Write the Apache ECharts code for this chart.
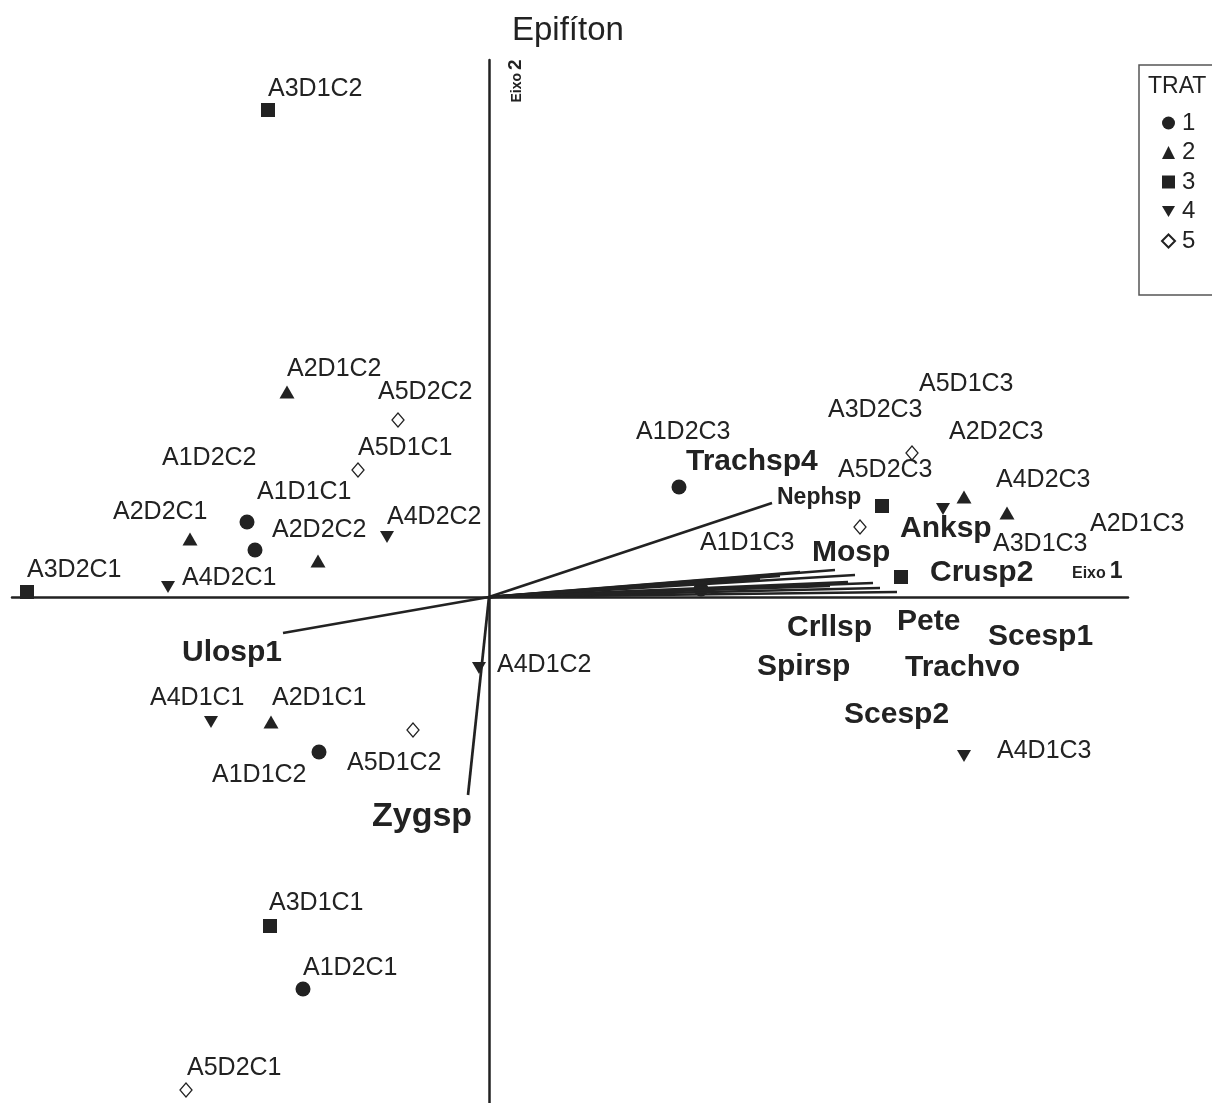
<!DOCTYPE html>
<html>
<head>
<meta charset="utf-8">
<script src="https://cdn.jsdelivr.net/npm/echarts@6/dist/echarts.min.js"></script>
<style>
html, body { margin: 0; padding: 0; background: #fff; }
#chart { width: 1212px; height: 1103px; }
</style>
</head>
<body>
<div id="chart"></div>
<script>
// Sample scores on ordination axes 1 and 2
const sampleNames = ['A1D1C1','A1D1C2','A1D1C3','A1D2C1','A1D2C2','A1D2C3',
  'A2D1C1','A2D1C2','A2D1C3','A2D2C1','A2D2C2','A2D2C3',
  'A3D1C1','A3D1C2','A3D1C3','A3D2C1','A3D2C3',
  'A4D1C1','A4D1C2','A4D1C3','A4D2C1','A4D2C2','A4D2C3',
  'A5D1C1','A5D1C2','A5D1C3','A5D2C1','A5D2C2','A5D2C3'];
const sampleX = [-1.21,-0.85,1.06,-0.93,-1.17,0.95,
  -1.09,-1.01,2.59,-1.495,-0.855,2.375,
  -1.095,-1.105,2.06,-2.31,1.965,
  -1.39,-0.05,2.375,-1.605,-0.51,2.27,
  -0.655,-0.38,2.115,-1.515,-0.455,1.855];
const sampleY = [0.375,-0.775,0.04,-1.96,0.235,0.55,
  -0.625,1.025,0.42,0.29,0.18,0.5,
  -1.645,2.435,0.1,0.025,0.455,
  -0.625,-0.355,-0.795,0.05,0.3,0.44,
  0.635,-0.665,0.72,-2.465,0.885,0.35];
// Anchor (left edge, middle) of each sample name, in axis units
const sampleLabelX = [-1.16,-1.385,1.055,-0.93,-1.635,0.735,
  -1.085,-1.01,3.005,-1.88,-1.085,2.3,
  -1.1,-1.105,2.52,-2.31,1.695,
  -1.695,0.04,2.54,-1.535,-0.51,2.535,
  -0.655,-0.71,2.15,-1.51,-0.555,1.745];
const sampleLabelY = [0.525,-0.89,0.27,-1.855,0.695,0.825,
  -0.505,1.14,0.365,0.425,0.335,0.825,
  -1.53,2.54,0.265,0.135,0.935,
  -0.505,-0.34,-0.77,0.095,0.4,0.585,
  0.745,-0.83,1.065,-2.355,1.025,0.635];

// Species vectors (tips) and their name anchors
const speciesNames = ['Trachsp4','Nephsp','Anksp','Mosp','Crusp2','Crllsp','Pete',
  'Scesp1','Spirsp','Trachvo','Scesp2','Ulosp1','Zygsp'];
const speciesX = [1.73,1.415,1.83,1.92,2.04,1.555,1.795,1.955,1.455,1.705,1.355,-1.03,-0.105];
const speciesY = [0.135,0.47,0.11,0.07,0.025,0.125,0.075,0.045,0.105,0.055,0.09,-0.18,-0.99];
const speciesLabelX = [0.985,1.44,2.055,1.615,2.205,1.49,2.04,2.495,1.34,2.08,1.775,-1.535,-0.585];
const speciesLabelY = [0.675,0.495,0.34,0.22,0.12,-0.155,-0.125,-0.2,-0.35,-0.355,-0.59,-0.28,-1.1];

const treatments = ['1','2','3','4','5'];

// ---- styling ----
const INK = '#222';
const FONT = '"Liberation Sans", Arial, Helvetica, sans-serif';
const treatmentSymbol = {
  '1': { symbol: 'circle', size: 15, fill: INK },
  '2': { symbol: 'triangle', size: [15, 13], fill: INK },
  '3': { symbol: 'rect', size: 14, fill: INK },
  '4': { symbol: 'path://M0,0 L10,0 L5,8.5 Z', size: [14, 12], fill: INK },
  '5': { symbol: 'diamond', size: [12, 14], fill: '#fff', border: INK }
};
const speciesFontSize = { Nephsp: 23, Zygsp: 34 };

const chart = echarts.init(document.getElementById('chart'));

const treatmentSeries = treatments.map(t => {
  const s = treatmentSymbol[t];
  const data = [];
  sampleNames.forEach((n, i) => {
    if (n.charAt(1) === t) data.push({ name: n, value: [sampleX[i], sampleY[i]] });
  });
  return {
    name: t,
    type: 'scatter',
    symbol: s.symbol,
    symbolSize: s.size,
    z: 2,
    itemStyle: {
      color: s.fill,
      borderColor: s.border || s.fill,
      borderWidth: s.border ? 1.3 : 0,
      opacity: 1
    },
    emphasis: { disabled: true },
    data
  };
});

const option = {
  animation: false,
  backgroundColor: '#fff',
  title: {
    text: 'Epifíton',
    left: 512,
    top: 14,
    padding: 0,
    textStyle: { fontFamily: FONT, fontSize: 33, fontWeight: 'normal', color: INK }
  },
  grid: { left: 12, right: 84, top: 60, bottom: 0 },
  xAxis: {
    type: 'value', min: -2.385, max: 3.195,
    axisLine: { show: true, onZero: true, lineStyle: { color: INK, width: 2.5 } },
    axisTick: { show: false }, axisLabel: { show: false }, splitLine: { show: false }
  },
  yAxis: {
    type: 'value', min: -2.53, max: 2.685,
    axisLine: { show: true, onZero: true, lineStyle: { color: INK, width: 2.5 } },
    axisTick: { show: false }, axisLabel: { show: false }, splitLine: { show: false }
  },
  legend: {
    data: treatments,
    orient: 'vertical',
    left: 1161,
    top: 111,
    padding: 0,
    itemWidth: 13,
    itemHeight: 13,
    itemGap: 5.5,
    selectedMode: false,
    textStyle: { fontFamily: FONT, fontSize: 24, color: INK, padding: [0, 0, 0, 2] }
  },
  graphic: [
    {
      type: 'rect',
      shape: { x: 1139, y: 65, width: 100, height: 230 },
      style: { fill: 'none', stroke: '#555', lineWidth: 1.5 }
    },
    {
      type: 'text', x: 1148, y: 87,
      style: { text: 'TRAT', fontFamily: FONT, fontSize: 23, fill: INK, textVerticalAlign: 'middle' }
    },
    {
      type: 'text', x: 1072, y: 572,
      style: {
        text: '{a|Eixo}{b|1}', textVerticalAlign: 'middle',
        rich: {
          a: { fontFamily: FONT, fontSize: 16, fontWeight: 'bold', fill: INK, padding: [4, 4, 0, 0] },
          b: { fontFamily: FONT, fontSize: 23, fontWeight: 'bold', fill: INK }
        }
      }
    },
    {
      type: 'text', x: 516, y: 81, rotation: Math.PI / 2,
      style: {
        text: '{a|Eixo}{b|2}', textAlign: 'center', textVerticalAlign: 'middle',
        rich: {
          a: { fontFamily: FONT, fontSize: 14, fontWeight: 'bold', fill: INK, padding: [3, 3, 0, 0] },
          b: { fontFamily: FONT, fontSize: 19, fontWeight: 'bold', fill: INK }
        }
      }
    }
  ],
  series: [
    ...treatmentSeries,
    {
      name: 'vectors',
      type: 'lines',
      coordinateSystem: 'cartesian2d',
      z: 3,
      lineStyle: { color: INK, width: 2.7, opacity: 1 },
      emphasis: { disabled: true },
      data: speciesNames.map((n, i) => ({ name: n, coords: [[0, 0], [speciesX[i], speciesY[i]]] }))
    },
    {
      name: 'speciesNames',
      type: 'scatter',
      symbolSize: 0,
      z: 4,
      silent: true,
      itemStyle: { opacity: 1 },
      label: {
        show: true, position: 'right', distance: 0,
        formatter: p => p.name,
        fontFamily: FONT, fontWeight: 'bold', fontSize: 30, color: INK
      },
      data: speciesNames.map((n, i) => ({
        name: n,
        value: [speciesLabelX[i], speciesLabelY[i]],
        label: speciesFontSize[n] ? { fontSize: speciesFontSize[n] } : undefined
      }))
    },
    {
      name: 'sampleNames',
      type: 'scatter',
      symbolSize: 0,
      z: 4,
      silent: true,
      itemStyle: { opacity: 1 },
      label: {
        show: true, position: 'right', distance: 0,
        formatter: p => p.name,
        fontFamily: FONT, fontSize: 25, color: INK
      },
      data: sampleNames.map((n, i) => ({ name: n, value: [sampleLabelX[i], sampleLabelY[i]] }))
    }
  ]
};

chart.setOption(option);
</script>
</body>
</html>
